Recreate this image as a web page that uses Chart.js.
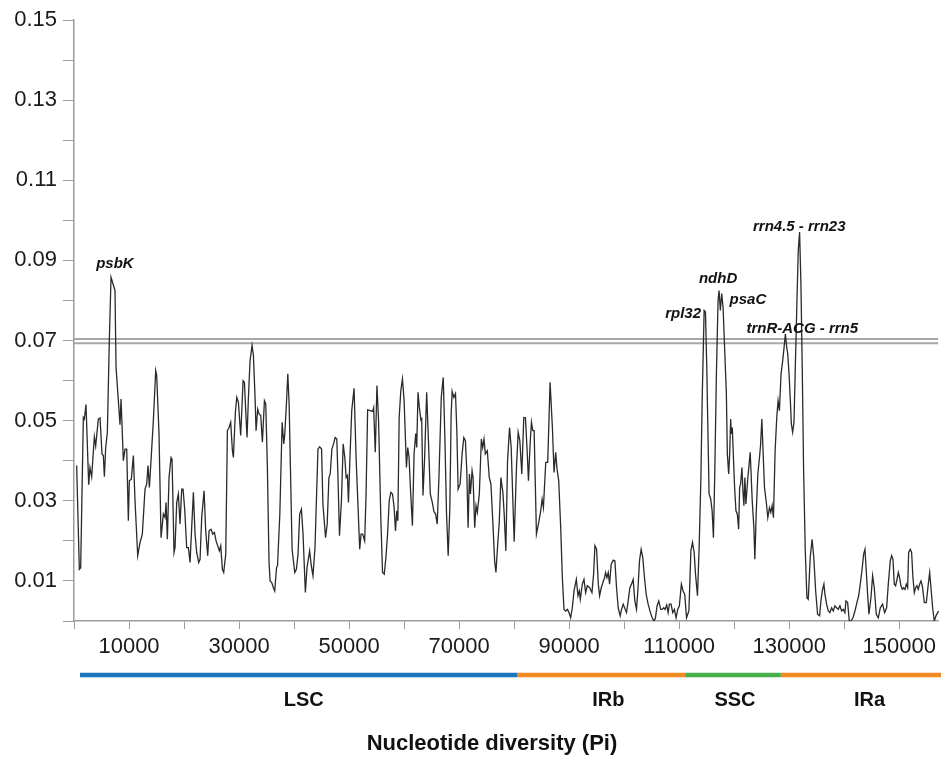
<!DOCTYPE html>
<html>
<head>
<meta charset="utf-8">
<script src="https://cdn.jsdelivr.net/npm/chart.js@4.4.1/dist/chart.umd.min.js"></script>
<style>
html,body{margin:0;padding:0;background:#fff;}
#wrap{width:941px;height:757px;position:relative;}
</style>
</head>
<body>
<div id="wrap"><canvas id="c" width="941" height="757"></canvas></div>
<script>
// ---- data ----
const positions = [485,970,1212,1700,1880,2180,2670,2900,3210,3700,3940,4420,4730,5090,5330,5520,5760,6060,6420,6730,7450,7640,8060,8360,8550,8970,9270,9580,9880,10060,10420,10790,11090,11580,12000,12420,12910,13210,13450,13700,14120,14420,14850,15030,15450,15820,16240,16550,16730,16970,17270,17640,17820,18180,18360,18670,18970,19270,19580,19820,20120,20480,20790,21090,21390,21700,22000,22300,22670,22910,23210,23640,23940,24300,24550,24910,25210,25520,25820,26120,26420,26670,26970,27210,27580,27880,28180,28480,28790,28970,29330,29580,29880,30300,30730,30970,31210,31450,31700,32000,32360,32610,32910,33090,33390,33640,33940,34240,34610,34850,35150,35450,35640,35940,36240,36480,36810,36990,37410,37830,38130,38310,38610,38860,39100,39640,40120,40420,40720,41020,41330,41630,42050,42350,42830,43130,43430,43800,44340,44640,45000,45240,45720,46020,46330,46570,46870,47170,47470,47770,48010,48250,48610,48920,49220,49460,49700,49880,50180,50480,50900,51270,51630,51930,52170,52470,52830,53070,53370,53860,54280,54460,54760,55060,55360,55780,56080,56390,56690,56990,57290,57590,57890,58190,58430,58670,58860,59100,59400,59700,60000,60420,60660,60900,61200,61510,61810,62110,62290,62530,62770,63070,63190,63430,63730,64100,64400,64760,65120,65420,65720,66020,66330,66750,67110,67410,67710,68010,68310,68550,68730,69040,69340,69580,69820,70180,70540,70850,71140,71390,71630,71870,72050,72350,72530,72830,73070,73310,73670,74040,74280,74520,74760,75120,75480,75780,76140,76450,76690,77050,77290,77590,77950,78190,78490,78800,79160,79460,80000,80420,80730,81030,81390,81750,82050,82360,82600,82900,83140,83380,83630,84050,84410,84830,85080,85320,85740,86100,86530,86950,87250,87550,87790,88100,88460,88760,89060,89370,89670,89970,90270,90570,90880,91300,91600,91840,92020,92390,92690,92990,93290,93720,94140,94440,94680,94980,95290,95530,95830,96130,96430,96620,96860,97100,97340,97640,98010,98310,98610,98910,99270,99520,99820,100180,100420,100730,101030,101330,101630,101930,102240,102540,102780,103080,103380,103690,103990,104350,104770,105080,105440,105680,105980,106280,106650,106890,107190,107430,107730,107980,108220,108520,108820,109120,109430,109730,110030,110390,110700,111000,111330,111760,112120,112420,112720,112960,113320,113620,113930,114170,114530,114770,115010,115250,115430,115730,115980,116220,116460,116760,117060,117240,117480,117720,117970,118270,118570,118750,118990,119170,119350,119470,119650,119830,120070,120310,120560,120800,120980,121160,121400,121580,121760,121940,122120,122300,122480,122900,123270,123570,123750,123990,124290,124590,124780,125020,125260,125500,125800,126100,126400,126650,126890,127130,127430,127730,127970,128210,128510,128810,129060,129300,129540,129720,129960,130200,130380,130620,130860,131100,131400,131640,131880,132120,132360,132600,132910,133210,133450,133820,134150,134450,134800,135150,135520,135760,136000,136300,136480,136790,137090,137390,137700,138000,138300,138610,138910,139210,139520,139820,140120,140300,140610,140910,141210,141580,141940,142300,142610,142910,143270,143520,143760,144000,144240,144480,144850,145150,145450,145820,146180,146550,146970,147330,147700,148000,148360,148610,148850,149090,149330,149580,149820,150060,150300,150550,150790,151030,151270,151520,151700,152000,152240,152480,152730,152970,153210,153450,153700,153940,154180,154550,154910,155270,155520,155760,156060,156360,156670,156970,157150];
const piValues = [0.0388,0.0129,0.0133,0.0508,0.0504,0.054,0.034,0.0383,0.036,0.046,0.0437,0.0504,0.0507,0.0417,0.0413,0.036,0.0433,0.047,0.07,0.0858,0.0825,0.0633,0.055,0.049,0.0554,0.04,0.0429,0.0429,0.025,0.035,0.0354,0.0413,0.03,0.0163,0.0196,0.0217,0.0329,0.0342,0.0388,0.0333,0.0429,0.05,0.0625,0.0613,0.0467,0.0208,0.0267,0.0258,0.0296,0.0204,0.0358,0.0408,0.0404,0.0171,0.0183,0.0296,0.0317,0.0242,0.0329,0.0329,0.0279,0.0183,0.0183,0.0146,0.0233,0.0321,0.0217,0.0171,0.0146,0.0154,0.0258,0.0325,0.0225,0.0163,0.0225,0.0229,0.0217,0.0221,0.02,0.0188,0.0175,0.0188,0.0129,0.0121,0.0167,0.0475,0.0483,0.0496,0.0425,0.0408,0.0521,0.0558,0.0546,0.0463,0.06,0.0596,0.0525,0.0458,0.0558,0.065,0.0688,0.0663,0.0558,0.0475,0.0529,0.0517,0.0513,0.0446,0.055,0.0542,0.0383,0.0146,0.01,0.0096,0.0083,0.0075,0.0133,0.0138,0.0267,0.0496,0.0442,0.0467,0.0542,0.0617,0.0542,0.0179,0.0121,0.0129,0.0167,0.0267,0.0279,0.0217,0.0071,0.0133,0.0175,0.0138,0.0113,0.0183,0.0429,0.0435,0.0429,0.0292,0.0208,0.0242,0.0358,0.0367,0.0429,0.0442,0.0458,0.0454,0.0342,0.0213,0.03,0.0442,0.0408,0.0358,0.0363,0.0296,0.0417,0.0525,0.0581,0.0408,0.0283,0.0179,0.0217,0.0217,0.02,0.0308,0.0527,0.0525,0.0523,0.0532,0.0421,0.0588,0.05,0.025,0.0121,0.0117,0.0158,0.0217,0.03,0.0321,0.0317,0.0283,0.0225,0.0275,0.025,0.0508,0.0575,0.0604,0.055,0.0383,0.0433,0.0408,0.0317,0.0238,0.0417,0.0468,0.0433,0.0571,0.0533,0.05,0.0508,0.0313,0.0408,0.0571,0.0458,0.0317,0.0296,0.0273,0.0267,0.0242,0.0358,0.0558,0.0608,0.0458,0.0267,0.0163,0.0283,0.0517,0.0573,0.0558,0.0568,0.0475,0.0329,0.0342,0.0417,0.0458,0.045,0.0375,0.0233,0.0367,0.0317,0.0375,0.0358,0.0233,0.0288,0.0271,0.0317,0.0454,0.0433,0.0454,0.0417,0.0425,0.0358,0.0342,0.0242,0.015,0.0121,0.02,0.0246,0.0358,0.0321,0.0267,0.0175,0.04,0.0483,0.0433,0.0198,0.0383,0.0471,0.045,0.0367,0.0508,0.0507,0.0425,0.035,0.0442,0.0496,0.0475,0.0475,0.0217,0.0242,0.0275,0.0304,0.0283,0.0396,0.0396,0.0596,0.0483,0.0371,0.0421,0.0379,0.035,0.0233,0.0108,0.0029,0.0025,0.0029,0.0021,0.0008,0.0033,0.0075,0.0104,0.0063,0.0075,0.0054,0.0092,0.0104,0.0071,0.0088,0.0083,0.0071,0.0117,0.0188,0.0179,0.0092,0.0063,0.0083,0.0096,0.0108,0.0121,0.0108,0.0121,0.0092,0.0142,0.0152,0.015,0.0083,0.0033,0.0013,0.0029,0.0042,0.0029,0.0021,0.005,0.0083,0.0092,0.0104,0.005,0.0029,0.0088,0.015,0.0179,0.0158,0.0108,0.0067,0.0042,0.0021,0.0008,0,0.0008,0.0038,0.005,0.0029,0.0029,0.0033,0.0029,0.004,0.0021,0.0042,0.0042,0.0021,0.0029,0.0008,0.0029,0.0038,0.0092,0.0075,0.0067,0.0008,0.0025,0.0175,0.0196,0.0171,0.0117,0.0063,0.0183,0.035,0.055,0.0775,0.0771,0.0633,0.045,0.0317,0.0304,0.0275,0.0208,0.0367,0.0617,0.08,0.0825,0.0775,0.0817,0.0783,0.0675,0.0567,0.0417,0.0367,0.0417,0.0504,0.0467,0.0483,0.0417,0.0333,0.0275,0.0267,0.0229,0.0333,0.0342,0.0383,0.0325,0.0288,0.0358,0.0292,0.0325,0.0358,0.0421,0.03,0.0233,0.0154,0.0267,0.0367,0.0408,0.0438,0.0504,0.0417,0.0333,0.03,0.0258,0.0283,0.0271,0.0288,0.0258,0.0425,0.0508,0.055,0.0525,0.0617,0.065,0.0683,0.0717,0.0683,0.0667,0.0617,0.055,0.0492,0.0471,0.0496,0.0633,0.08,0.0925,0.0971,0.0842,0.0633,0.0383,0.0175,0.0058,0.0054,0.016,0.0204,0.016,0.0075,0.0017,0.0013,0.005,0.0075,0.0092,0.0067,0.0042,0.0025,0.0021,0.0033,0.0025,0.0038,0.0033,0.0029,0.0038,0.0025,0.0029,0.0021,0.005,0.0046,0,0,0.0008,0.0025,0.0046,0.0063,0.0092,0.0133,0.0167,0.0179,0.0125,0.0067,0.0017,0.0058,0.0113,0.0083,0.0017,0.0008,0.0033,0.0042,0.0021,0.0033,0.0092,0.015,0.0163,0.0154,0.0092,0.0088,0.0104,0.0121,0.0108,0.0088,0.0079,0.0083,0.0079,0.0092,0.0083,0.0171,0.0179,0.0171,0.0108,0.0071,0.0083,0.0088,0.0079,0.0092,0.01,0.0088,0.0046,0.0046,0.0092,0.0121,0.0083,0.0033,0,0.0013,0.0021,0.0025];

const thresholdValues = [0.0704, 0.0693];
const xMax = 157100;

const xTickLabels = [10000, 30000, 50000, 70000, 90000, 110000, 130000, 150000];
const yTickLabels = ['0.01', '0.03', '0.05', '0.07', '0.09', '0.11', '0.13', '0.15'];

const regionNames = ['LSC', 'IRb', 'SSC', 'IRa'];
const regionStarts = [1090, 80630, 111080, 128480];
const regionEnds = [80630, 111080, 128480, 157100];
const regionLabelPos = [41770, 97120, 120140, 144600];
const regionColors = ['#1c74bd', '#f28a24', '#4aae4a', '#f28a24'];

const geneLabels = ['psbK', 'rpl32', 'ndhD', 'psaC', 'trnR-ACG - rrn5', 'rrn4.5 - rrn23'];
const geneLabelPos = [7430, 110710, 117060, 122490, 132370, 131820];
const geneLabelPi = [0.0892, 0.0767, 0.0855, 0.0802, 0.0730, 0.0984];

const axisTitle = 'Nucleotide diversity (Pi)';

// ---- chart ----
const lineData = positions.map((p, i) => ({x: p, y: piValues[i]}));
const thresholdSets = thresholdValues.map(v => ({
  data: [{x: 0, y: v}, {x: xMax, y: v}],
  borderColor: '#a8a8a8', borderWidth: 2, pointRadius: 0, fill: false, order: 2
}));

const FONT = "'Liberation Sans', Arial, Helvetica, sans-serif";

const extras = {
  id: 'extras',
  afterDraw(chart) {
    const ctx = chart.ctx;
    const xs = chart.scales.x, ys = chart.scales.y;
    ctx.save();
    // gene annotations
    ctx.fillStyle = '#111';
    ctx.font = "italic bold 15px " + FONT;
    ctx.textAlign = 'center';
    ctx.textBaseline = 'middle';
    geneLabels.forEach((t, i) => {
      ctx.fillText(t, xs.getPixelForValue(geneLabelPos[i]), ys.getPixelForValue(geneLabelPi[i]));
    });
    // region bar
    const barY = 675;
    ctx.lineWidth = 4.5;
    ctx.lineCap = 'butt';
    regionNames.forEach((n, i) => {
      ctx.strokeStyle = regionColors[i];
      ctx.beginPath();
      ctx.moveTo(xs.getPixelForValue(regionStarts[i]), barY);
      ctx.lineTo(Math.max(xs.getPixelForValue(regionEnds[i]), i === 3 ? chart.width : 0), barY);
      ctx.stroke();
    });
    ctx.fillStyle = '#111';
    ctx.font = "bold 20px " + FONT;
    regionNames.forEach((n, i) => {
      ctx.fillText(n, xs.getPixelForValue(regionLabelPos[i]), 700);
    });
    ctx.font = "bold 22px " + FONT;
    ctx.fillText(axisTitle, 492, 744);
    ctx.restore();
  }
};

new Chart(document.getElementById('c'), {
  type: 'line',
  data: {
    datasets: [{
      data: lineData,
      borderColor: '#2a2a2a', borderWidth: 1.3, pointRadius: 0, fill: false, tension: 0, order: 1,
      clip: {left: 0, top: 0, right: 10, bottom: 0}
    }].concat(thresholdSets)
  },
  options: {
    responsive: false,
    animation: false,
    events: [],
    layout: { autoPadding: false, padding: { top: 20, right: -4, left: 0, bottom: 0 } },
    plugins: { legend: { display: false }, tooltip: { enabled: false } },
    scales: {
      x: {
        type: 'linear', min: 0, max: xMax,
        afterFit(s) { s.height = 136; },
        afterBuildTicks(s) {
          const t = [];
          for (let v = 0; v <= xMax; v += 10000) t.push({value: v});
          s.ticks = t;
        },
        border: { color: '#9c9c9c', width: 1.5 },
        grid: { drawOnChartArea: false, drawTicks: true, tickLength: 8, color: '#9c9c9c', lineWidth: 1 },
        ticks: {
          autoSkip: false, maxRotation: 0, padding: 5,
          color: '#1a1a1a', font: { family: FONT, size: 22 },
          callback(v) { return xTickLabels.includes(v) ? String(v) : ''; }
        }
      },
      y: {
        type: 'linear', min: 0, max: 0.15,
        afterFit(s) { s.width = 74; },
        afterBuildTicks(s) {
          const t = [];
          for (let i = 0; i <= 15; i++) t.push({value: i / 100});
          s.ticks = t;
        },
        border: { color: '#9c9c9c', width: 1.5 },
        grid: { drawOnChartArea: false, drawTicks: true, tickLength: 11, color: '#9c9c9c', lineWidth: 1 },
        ticks: {
          autoSkip: false, padding: 6,
          color: '#1a1a1a', font: { family: FONT, size: 22 },
          callback(v) { const s = v.toFixed(2); return yTickLabels.includes(s) ? s : ''; }
        }
      }
    }
  },
  plugins: [extras]
});
</script>
</body>
</html>
